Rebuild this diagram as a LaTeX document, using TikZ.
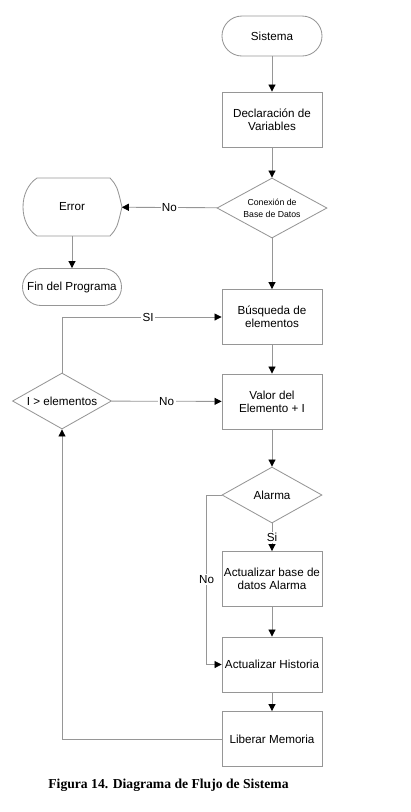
\documentclass[tikz,border=0pt]{standalone}
\usepackage{fontspec}
\setmainfont{Liberation Sans}
\newfontfamily\capfont{Liberation Serif}
\usetikzlibrary{arrows.meta,shapes.geometric}
\definecolor{linegray}{RGB}{150,150,150}
\tikzset{
  box/.style={draw=linegray,line width=0.6pt,align=center,minimum width=2.5cm,minimum height=1.375cm,inner sep=1pt},
  term/.style={box,rounded corners=0.48cm,minimum height=0.96cm},
  dec/.style={draw=linegray,line width=0.6pt,diamond,aspect=1.8,align=center,inner sep=0pt},
  arr/.style={draw=linegray,line width=0.6pt,-{Triangle[length=5pt,width=5pt,color=black]}},
  lbl/.style={fill=white,inner sep=1pt}
}
\begin{document}
\begin{tikzpicture}[x=0.025cm,y=-0.025cm,font=\fontsize{8.3}{9.5}\selectfont]
\useasboundingbox (0,0) rectangle (410,812);
\node[term,minimum height=1cm,rounded corners=0.5cm] (sis) at (272,36) {Sistema};
\node[box] (decl) at (272,119.5) {Declaración de\\Variables};
\node[dec,minimum width=2.75cm,minimum height=1.5cm,font=\fontsize{6.2}{8.3}\selectfont] (conn) at (272,208) {Conexión de\\Base de Datos};
\node[minimum width=2.475cm,minimum height=1.45cm,inner sep=0pt] (err) at (72,207) {Error};
\draw[draw=linegray,line width=0.6pt] (37,178) -- (110,178) .. controls (117,186) .. (122,207) .. controls (117,228) .. (110,236) -- (37,236) .. controls (28,230) and (23,219) .. (23,207) .. controls (23,195) and (28,184) .. (37,178) -- cycle;
\node[term,minimum width=2.475cm,minimum height=0.925cm,rounded corners=0.46cm] (fin) at (72,287) {Fin del Programa};
\node[box] (busq) at (272,317) {Búsqueda de\\elementos};
\node[box] (valor) at (272,401.5) {Valor del\\Elemento + I};
\node[dec,minimum width=2.475cm,minimum height=1.4cm] (ie) at (62,401) {I > elementos};
\node[dec,minimum width=2.5cm,minimum height=1.4cm] (alarm) at (272,495) {Alarma};
\node[box] (act) at (272,579) {Actualizar base de\\datos Alarma};
\node[box] (hist) at (272,664.5) {Actualizar Historia};
\node[box] (lib) at (272,739) {Liberar Memoria};
\node[font=\capfont\bfseries\fontsize{9.7}{11}\selectfont] (cap) at (168.5,785) {Figura 14. Diagrama de Flujo de Sistema};
\draw[arr] (sis)--(decl); \draw[arr] (decl)--(conn); \draw[arr] (conn)--node[lbl]{No}(err); \draw[arr] (err)--(fin);
\draw[arr] (conn)--(busq); \draw[arr] (busq)--(valor); \draw[arr] (valor)--(alarm); \draw[arr] (alarm)--node[lbl]{Si}(act);
\draw[arr] (act)--(hist); \draw[arr] (hist)--(lib); \draw[arr] (ie)--node[lbl]{No}(valor);
\draw[arr] (ie.north)|-node[lbl,pos=0.77]{SI}(busq.west);
\draw[arr] (alarm.west)--++(-15,0)|-node[lbl,pos=0.25]{No}(hist.west);
\draw[arr] (lib.west)-|(ie.south);
\end{tikzpicture}
\end{document}
